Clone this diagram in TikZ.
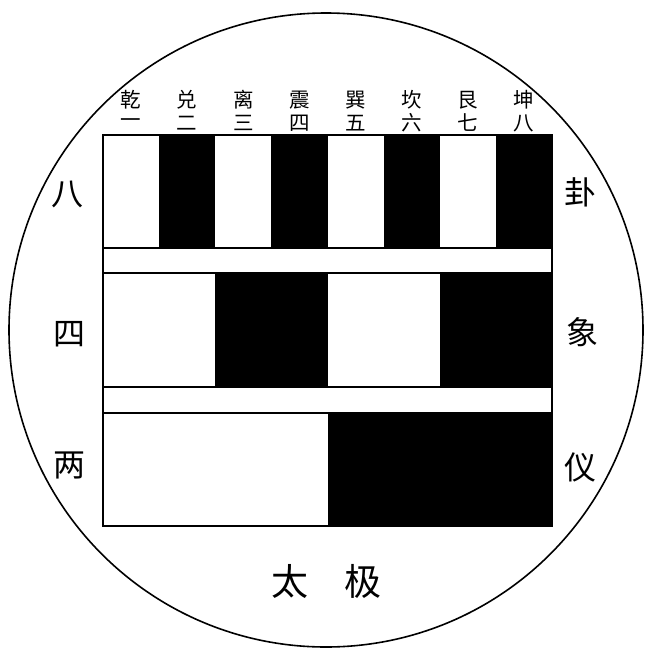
\documentclass[tikz,border=0pt]{standalone}
\usepackage{fontspec}
\newfontfamily\cjk{Noto Sans CJK SC}
\usetikzlibrary{backgrounds}

\tikzset{
    rim/.style={draw=black, line width=1.6pt},
    frame/.style={draw=black, line width=1.5pt},
    yin/.style={fill=black},
    gualabel/.style={font=\cjk\fontsize{20.5}{20.5}\selectfont, inner sep=0pt},
    sidelabel/.style={font=\cjk\fontsize{32}{32}\selectfont, inner sep=0pt},
    rootlabel/.style={font=\cjk\fontsize{37}{37}\selectfont, inner sep=0pt}
}
\def\colw{56.125}

\begin{document}
\begin{tikzpicture}[x=1pt, y=-1pt]
    \useasboundingbox (0,0) rectangle (645,649);
    \draw[rim] (326,330) circle (317pt);

    % eight trigrams
    \foreach \i in {2,4,6,8}
        \fill[yin] ({103+\colw*(\i-1)},135) rectangle ({103+\colw*\i},248);
    % four images
    \foreach \i in {2,4}
        \fill[yin] ({103+2*\colw*(\i-1)},273) rectangle ({103+2*\colw*\i},387);
    % two modes
    \fill[yin] (327.5,413) rectangle (552,526);

    \draw[frame] (103,135) rectangle (552,526);
    \draw[frame] (103,248) -- (552,248) (103,273) -- (552,273);
    \draw[frame] (103,387) -- (552,387) (103,413) -- (552,413);

    \foreach \name/\num [count=\i] in {乾/一,兑/二,离/三,震/四,巽/五,坎/六,艮/七,坤/八} {
        \node[gualabel] (g\i) at ({103+\colw*(\i-0.5)},100) {\name};
        \node[gualabel] (n\i) at ({103+\colw*(\i-0.5)},123) {\num};
    }

    \node[sidelabel] (ba)   at (68,194)  {八};
    \node[sidelabel] (si)   at (69,334)  {四};
    \node[sidelabel] (liang) at (69,465) {两};
    \node[sidelabel] (gua)  at (580,192) {卦};
    \node[sidelabel] (xiang) at (582,332) {象};
    \node[sidelabel] (yi)   at (580,467) {仪};

    \node[rootlabel] (tai) at (290,581) {太};
    \node[rootlabel] (ji)  at (363,581) {极};
\end{tikzpicture}
\end{document}
